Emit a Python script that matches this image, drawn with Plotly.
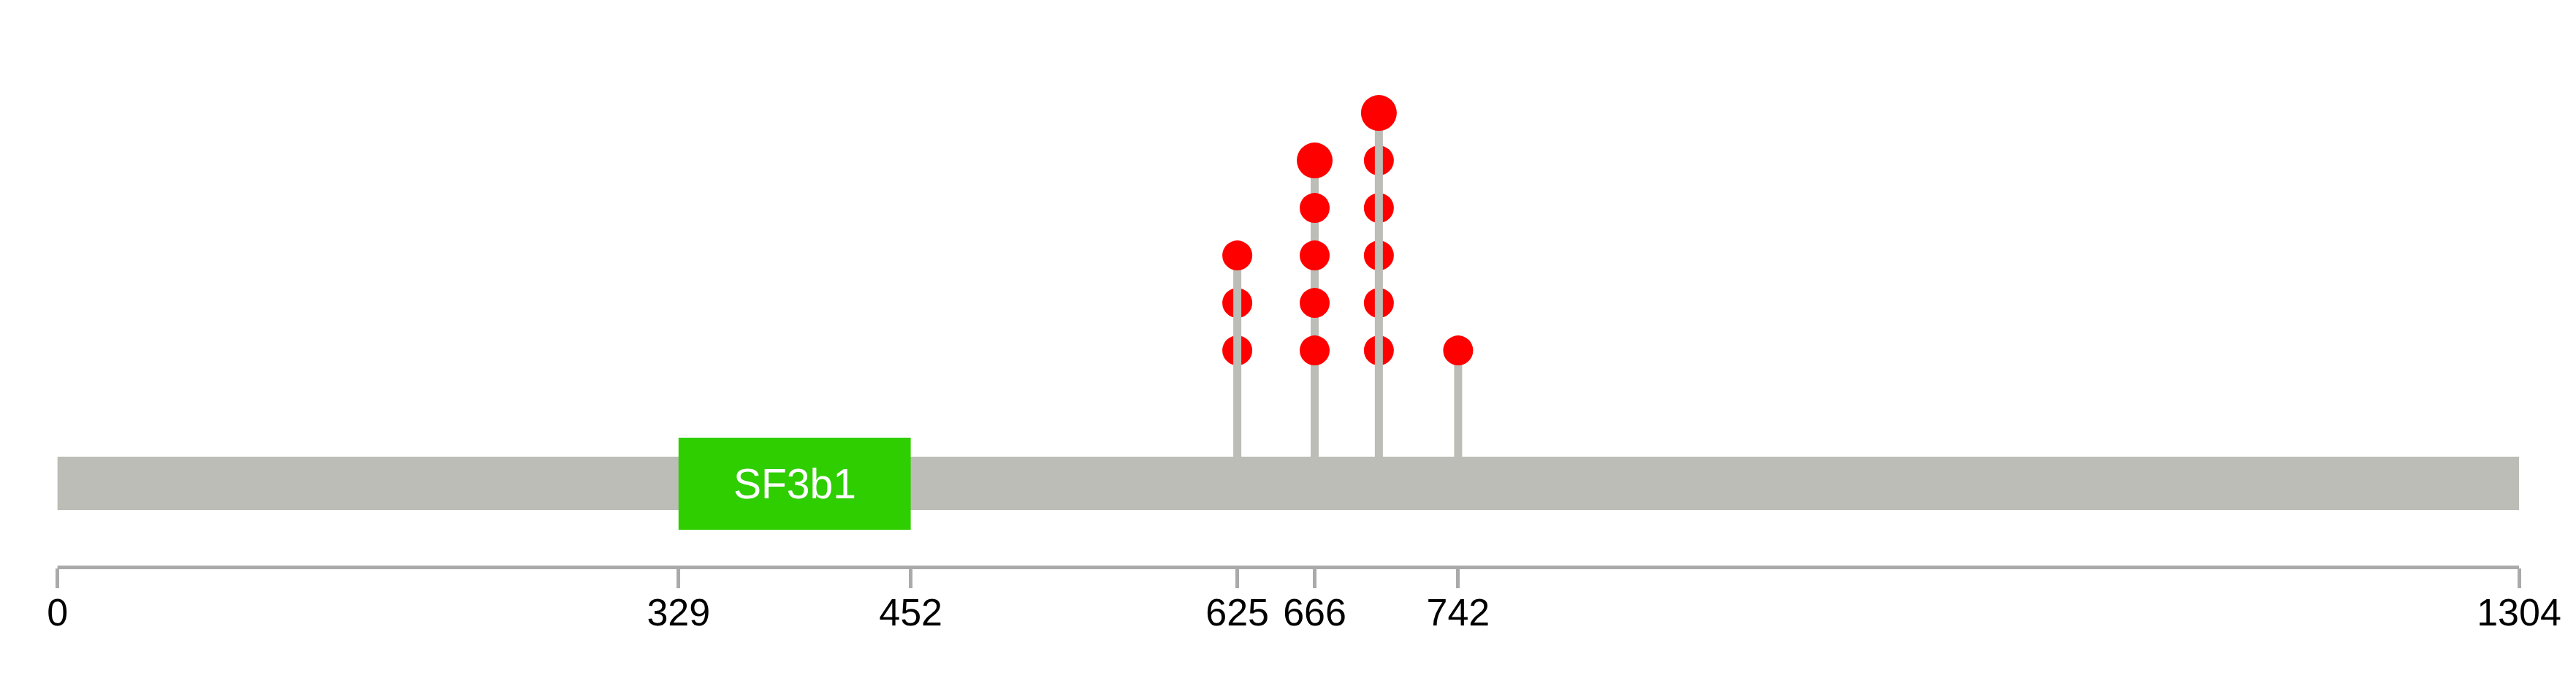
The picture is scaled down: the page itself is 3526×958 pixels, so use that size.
import plotly.graph_objects as go

# ---- data ----
protein_length = 1304
domain_names = ["SF3b1"]
domain_starts = [329]
domain_ends = [452]
positions = [625, 666, 700, 742]
counts = [3, 5, 6, 1]
top_large = [False, True, True, False]
stem_over_circles = [True, False, True, False]
tick_vals = [0, 329, 452, 625, 666, 742, 1304]
tick_text = ["0", "329", "452", "625", "666", "742", "1304"]

# ---- styling / layout constants ----
W, H = 3526, 958
LEVEL1_PX = 479.6   # pixel row of first circle
LEVEL_PX = 65.0     # pixel spacing between stacked circles


def lvl(px):
    return 1 + (LEVEL1_PX - px) / LEVEL_PX


BAR_TOP, BAR_BOT = lvl(625), lvl(698)
DOM_TOP, DOM_BOT = lvl(599), lvl(725)
AXIS_PX = 776.5
AXIS_PAPER_Y = (H - AXIS_PX) / H
X0_PX, X1_PX = 78.7, 3448.0
K = (X1_PX - X0_PX) / protein_length
X_RANGE = [-X0_PX / K, (W - X0_PX) / K]

GREY = "#BBBDB6"
RED = "#FF0000"
GREEN = "#2ECE00"
AXIS_GREY = "#AAAAAA"
FONT = "Liberation Sans, Arial, sans-serif"

fig = go.Figure()


def lower_circles(select):
    xs, ys = [], []
    for p, c, s in zip(positions, counts, stem_over_circles):
        if s == select:
            for k in range(1, c):
                xs.append(p)
                ys.append(k)
    return xs, ys


# lower circles that the stem is drawn over
xa, ya = lower_circles(True)
fig.add_trace(go.Scatter(x=xa, y=ya, mode="markers",
                         marker=dict(color=RED, size=41, opacity=1, line=dict(width=0)),
                         hoverinfo="skip"))

# stems
sx, sy = [], []
for p, c in zip(positions, counts):
    sx += [p, p, None]
    sy += [BAR_TOP, c, None]
fig.add_trace(go.Scatter(x=sx, y=sy, mode="lines",
                         line=dict(color=GREY, width=11), hoverinfo="skip"))

# lower circles drawn over the stem
xb, yb = lower_circles(False)
fig.add_trace(go.Scatter(x=xb, y=yb, mode="markers",
                         marker=dict(color=RED, size=41, opacity=1, line=dict(width=0)),
                         hoverinfo="skip"))

# top circles
fig.add_trace(go.Scatter(x=positions, y=counts, mode="markers",
                         marker=dict(color=RED,
                                     size=[49 if t else 41 for t in top_large],
                                     opacity=1, line=dict(width=0)),
                         hoverinfo="skip"))

shapes = [
    dict(type="rect", xref="x", yref="y", x0=0, x1=protein_length,
         y0=BAR_BOT, y1=BAR_TOP, fillcolor=GREY, line=dict(width=0),
         layer="below"),
    # axis baseline spanning the protein length
    dict(type="line", xref="x", yref="paper", x0=0, x1=protein_length,
         y0=AXIS_PAPER_Y, y1=AXIS_PAPER_Y,
         line=dict(color=AXIS_GREY, width=5), layer="above"),
]
annotations = []
for name, s, e in zip(domain_names, domain_starts, domain_ends):
    shapes.append(dict(type="rect", xref="x", yref="y", x0=s, x1=e,
                       y0=DOM_BOT, y1=DOM_TOP, fillcolor=GREEN,
                       line=dict(width=0), layer="below"))
    annotations.append(dict(x=(s + e) / 2, y=(DOM_TOP + DOM_BOT) / 2,
                            xref="x", yref="y", text=name, showarrow=False,
                            font=dict(family=FONT, size=57, color="white"),
                            xanchor="center", yanchor="middle"))

fig.update_layout(
    width=W, height=H,
    margin=dict(l=0, r=0, t=0, b=0, pad=0),
    paper_bgcolor="white", plot_bgcolor="white",
    showlegend=False,
    shapes=shapes, annotations=annotations,
    xaxis=dict(domain=[0, 1], range=X_RANGE,
               anchor="free", position=AXIS_PAPER_Y,
               showgrid=False, zeroline=False, showline=False,
               ticks="outside", ticklen=27, tickwidth=5, tickcolor=AXIS_GREY,
               tickvals=tick_vals, ticktext=tick_text,
               tickfont=dict(family=FONT, size=52, color="black"),
               ticklabelstandoff=-11,
               fixedrange=True),
    yaxis=dict(range=[lvl(H), lvl(0)], visible=False, showgrid=False,
               zeroline=False, fixedrange=True),
)

fig.write_html("out.html", config={"displayModeBar": False},
               post_script="document.body.style.margin='0';document.body.style.overflow='hidden';")
